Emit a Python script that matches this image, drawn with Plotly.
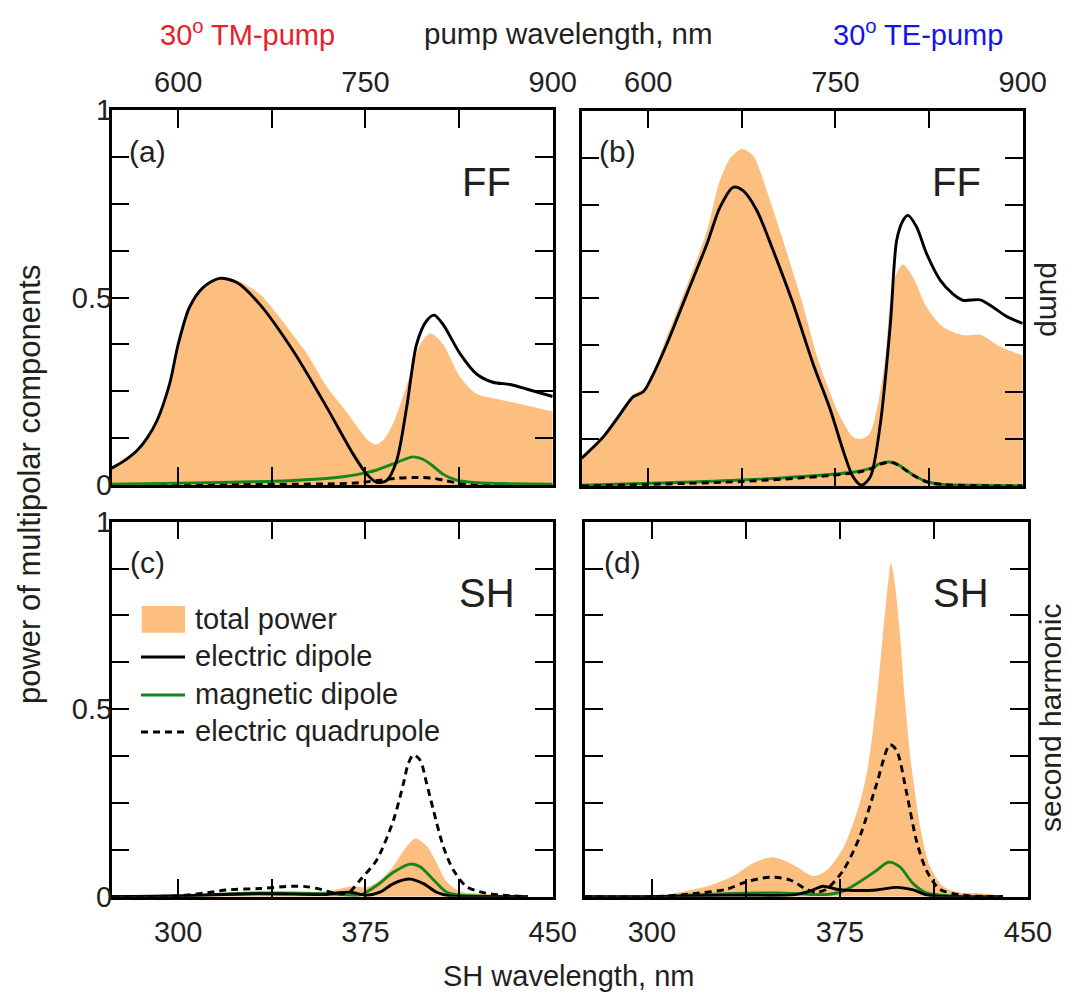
import plotly.graph_objects as go

# ---------------- data ----------------
# Panel (a): 30 deg TM pump, fundamental frequency, x = pump wavelength (nm)
A_TOTAL_X = [546.7, 556, 567, 575, 583, 593, 600, 609, 620, 633, 647, 665, 680, 692, 702, 719, 732, 745, 752, 758, 765, 772, 779, 786, 794, 802, 812, 826, 839, 858, 879, 900]
A_TOTAL_Y = [0.05, 0.068, 0.095, 0.13, 0.175, 0.27, 0.378, 0.476, 0.53, 0.555, 0.545, 0.51, 0.452, 0.40, 0.355, 0.262, 0.207, 0.148, 0.12, 0.108, 0.122, 0.163, 0.225, 0.296, 0.376, 0.404, 0.376, 0.287, 0.243, 0.227, 0.212, 0.196]
A_ED_X = [546.7, 556, 567, 575, 583, 593, 600, 609, 620, 633, 647, 665, 692, 719, 740, 751, 759, 767, 775, 783, 791, 799, 805, 812, 826, 839, 852, 866, 879, 900]
A_ED_Y = [0.045, 0.063, 0.092, 0.125, 0.172, 0.269, 0.376, 0.474, 0.527, 0.551, 0.540, 0.483, 0.358, 0.207, 0.083, 0.029, 0.007, 0.012, 0.065, 0.207, 0.376, 0.438, 0.453, 0.429, 0.349, 0.296, 0.274, 0.268, 0.256, 0.236]
A_MD_X = [546.7, 600, 650, 692, 732, 751, 759, 772, 781, 788, 795, 802, 812, 823, 840, 860, 900]
A_MD_Y = [0.002, 0.005, 0.008, 0.012, 0.022, 0.033, 0.040, 0.056, 0.068, 0.075, 0.070, 0.056, 0.029, 0.013, 0.006, 0.004, 0.002]
A_EQ_X = [546.7, 650, 720, 745, 762, 775, 788, 796, 804, 815, 826, 850, 900]
A_EQ_Y = [0.0, 0.002, 0.003, 0.006, 0.013, 0.018, 0.020, 0.020, 0.018, 0.011, 0.004, 0.001, 0.0]

# Panel (b): 30 deg TE pump, fundamental frequency
B_TOTAL_X = [546.7, 564, 577, 588, 596, 603, 615, 631, 647, 657, 666, 675, 684, 695, 708, 722, 738, 754, 764, 770, 777, 783, 790, 796, 804, 812, 823, 836, 852, 866, 882, 900]
B_TOTAL_Y = [0.082, 0.137, 0.197, 0.245, 0.258, 0.298, 0.40, 0.535, 0.68, 0.81, 0.875, 0.898, 0.880, 0.787, 0.654, 0.504, 0.317, 0.184, 0.131, 0.125, 0.138, 0.202, 0.344, 0.539, 0.59, 0.557, 0.477, 0.424, 0.402, 0.403, 0.371, 0.348]
B_ED_X = [546.7, 564, 577, 588, 596, 603, 615, 631, 647, 657.5, 668, 676, 687, 700, 716, 732, 746, 756, 764, 771, 778, 786, 794, 799, 804, 808, 815, 823, 834, 844, 852, 866, 876, 887, 900]
B_ED_Y = [0.074, 0.131, 0.189, 0.238, 0.251, 0.291, 0.379, 0.512, 0.645, 0.743, 0.796, 0.787, 0.734, 0.628, 0.486, 0.326, 0.202, 0.096, 0.025, 0.002, 0.025, 0.167, 0.433, 0.654, 0.707, 0.721, 0.690, 0.619, 0.548, 0.512, 0.495, 0.496, 0.477, 0.452, 0.433]
B_MD_X = [546.7, 609, 675, 743, 770, 780, 786, 792, 797, 802, 812, 823, 836, 860, 900]
B_MD_Y = [0.002, 0.008, 0.016, 0.030, 0.040, 0.050, 0.060, 0.064, 0.062, 0.053, 0.030, 0.012, 0.004, 0.002, 0.001]
B_EQ_X = [546.7, 609, 675, 743, 770, 780, 786, 792, 797, 802, 812, 823, 836, 860, 900]
B_EQ_Y = [0.0, 0.005, 0.012, 0.027, 0.038, 0.048, 0.058, 0.063, 0.061, 0.052, 0.029, 0.011, 0.004, 0.001, 0.0]

# Panel (c): TM pump, second harmonic, x = SH wavelength (nm)
C_TOTAL_X = [273.3, 320, 346, 360, 370, 375.5, 381, 386, 390, 395, 399.5, 403.5, 407.5, 413, 423.5, 440]
C_TOTAL_Y = [0.0, 0.004, 0.01, 0.015, 0.028, 0.025, 0.045, 0.08, 0.12, 0.155, 0.135, 0.09, 0.04, 0.014, 0.007, 0.0]
C_EQ_X = [273.3, 299, 313, 319, 333, 346, 351, 355.5, 362, 366, 369, 372.8, 379.5, 386.2, 390.2, 392.2, 394.2, 396.9, 399.5, 402.2, 406.2, 410.2, 415.5, 422.2, 430, 440]
C_EQ_Y = [0.0, 0.002, 0.012, 0.018, 0.022, 0.028, 0.027, 0.022, 0.011, 0.008, 0.015, 0.044, 0.098, 0.204, 0.302, 0.356, 0.378, 0.364, 0.302, 0.231, 0.133, 0.071, 0.027, 0.011, 0.004, 0.0]
C_MD_X = [273.3, 299, 333, 359.5, 370, 373, 379.5, 386.2, 392.8, 396.9, 402.2, 407.5, 413, 425, 440]
C_MD_Y = [0.0, 0.002, 0.010, 0.008, 0.004, 0.005, 0.03, 0.065, 0.087, 0.08, 0.045, 0.012, 0.004, 0.001, 0.0]
C_ED_X = [273.3, 299, 333, 359.5, 363.5, 368.8, 375.5, 380.8, 386.2, 392.8, 398.2, 403.5, 409, 420, 440]
C_ED_Y = [0.0, 0.002, 0.008, 0.006, 0.010, 0.012, 0.004, 0.012, 0.035, 0.047, 0.035, 0.012, 0.002, 0.0, 0.0]

# Panel (d): TE pump, second harmonic
D_TOTAL_X = [273.3, 300.6, 309.9, 323.1, 332.4, 340.4, 348.4, 356.3, 364.3, 369.6, 376.3, 382.9, 386.2, 389.6, 392.2, 394.2, 395.3, 396.9, 398.9, 400.9, 403.5, 407.5, 410.8, 416.1, 422, 429.4, 436, 440]
D_TOTAL_Y = [0.0, 0.0, 0.01, 0.03, 0.055, 0.09, 0.105, 0.085, 0.055, 0.07, 0.13, 0.25, 0.348, 0.525, 0.703, 0.836, 0.889, 0.836, 0.703, 0.525, 0.348, 0.17, 0.082, 0.028, 0.012, 0.01, 0.006, 0.0]
D_EQ_X = [273.3, 300.6, 316.5, 329.8, 337.8, 347, 355, 361.6, 365.7, 369.6, 376.3, 382.9, 389.6, 394.9, 397.6, 401.5, 405.5, 409.5, 414.8, 422.8, 436, 440]
D_EQ_Y = [0.0, 0.0, 0.008, 0.02, 0.04, 0.052, 0.045, 0.02, 0.012, 0.02, 0.07, 0.16, 0.30, 0.405, 0.39, 0.28, 0.15, 0.07, 0.02, 0.005, 0.0, 0.0]
D_MD_X = [273.3, 300, 329.8, 350, 369.6, 376.3, 382.9, 389.6, 394.3, 398.8, 404.2, 409.5, 420, 440]
D_MD_Y = [0.0, 0.0, 0.008, 0.01, 0.006, 0.015, 0.04, 0.07, 0.092, 0.08, 0.035, 0.01, 0.002, 0.0]
D_ED_X = [273.3, 300, 329.8, 356.3, 363, 368.3, 373.6, 378.9, 389.6, 397.6, 404.2, 409.5, 420, 440]
D_ED_Y = [0.0, 0.0, 0.004, 0.005, 0.015, 0.028, 0.02, 0.017, 0.018, 0.025, 0.018, 0.005, 0.0, 0.0]

PUMP_TICKS = [600, 750, 900]
PUMP_LABELS = ["600", "750", "900"]
PUMP_MINOR = [600, 675, 750, 825, 900]
SH_TICKS = [300, 375, 450]
SH_LABELS = ["300", "375", "450"]
SH_MINOR = [300, 337.5, 375, 412.5, 450]
Y_TICKS = [0, 0.5, 1.0]
Y_LABELS = ["0", "0.5", "1"]
Y_MINOR = [0, 0.125, 0.25, 0.375, 0.5, 0.625, 0.75, 0.875, 1.0]
PUMP_RANGE = [546.67, 900]
SH_RANGE = [273.33, 450]

LEGEND_NAMES = ["total power", "electric dipole", "magnetic dipole", "electric quadrupole"]

# ---------------- styling ----------------
# the page body adds an 8px margin, so the figure is drawn 8px smaller
OFF = 8
W, H = 1069 - OFF, 996 - OFF
FONT = "Liberation Sans, Arial, sans-serif"
TXT = "#231f20"
ORANGE = "#fdbf80"
GREEN = "#17851a"
LW = 2.9
DASH = "7px,5px"


def px(x):
    return (x - OFF) / W


def py(y):
    return 1 - (y - OFF) / H


fig = go.Figure()

panels = [
    ("", (A_TOTAL_X, A_TOTAL_Y), (A_ED_X, A_ED_Y), (A_MD_X, A_MD_Y), (A_EQ_X, A_EQ_Y), "eq_first"),
    ("2", (B_TOTAL_X, B_TOTAL_Y), (B_ED_X, B_ED_Y), (B_MD_X, B_MD_Y), (B_EQ_X, B_EQ_Y), "md_first"),
    ("3", (C_TOTAL_X, C_TOTAL_Y), (C_ED_X, C_ED_Y), (C_MD_X, C_MD_Y), (C_EQ_X, C_EQ_Y), "md_first"),
    ("4", (D_TOTAL_X, D_TOTAL_Y), (D_ED_X, D_ED_Y), (D_MD_X, D_MD_Y), (D_EQ_X, D_EQ_Y), "md_first"),
]

for suf, tot, ed, md, eq, order in panels:
    xa, ya = "x" + suf, "y" + suf
    fig.add_trace(go.Scatter(x=tot[0], y=tot[1], mode="lines", fill="tozeroy",
                             fillcolor=ORANGE, line=dict(width=0, color=ORANGE, shape="spline", smoothing=0.8),
                             xaxis=xa, yaxis=ya, showlegend=False, name=LEGEND_NAMES[0]))
    md_tr = go.Scatter(x=md[0], y=md[1], mode="lines", line=dict(width=LW, color=GREEN, shape="spline", smoothing=0.8),
                       xaxis=xa, yaxis=ya, showlegend=False, name=LEGEND_NAMES[2])
    eq_tr = go.Scatter(x=eq[0], y=eq[1], mode="lines", line=dict(width=LW, color="black", dash=DASH, shape="spline", smoothing=0.8),
                       xaxis=xa, yaxis=ya, showlegend=False, name=LEGEND_NAMES[3])
    if order == "eq_first":
        fig.add_trace(eq_tr)
        fig.add_trace(md_tr)
    else:
        fig.add_trace(md_tr)
        fig.add_trace(eq_tr)
    fig.add_trace(go.Scatter(x=ed[0], y=ed[1], mode="lines", line=dict(width=LW, color="black", shape="spline", smoothing=0.8),
                             xaxis=xa, yaxis=ya, showlegend=False, name=LEGEND_NAMES[1]))

# panel frames in reference pixels (left, right, top, bottom)
frames = {
    "": (111.7, 552.7, 110.0, 485.0),
    "2": (581.7, 1022.7, 110.7, 486.0),
    "3": (111.7, 552.7, 521.7, 896.7),
    "4": (585.0, 1028.0, 521.7, 896.7),
}


def axis_common():
    return dict(ticks="inside", ticklen=18, tickwidth=2, tickcolor="black",
                showline=True, linewidth=2.5, linecolor="black", mirror="ticks",
                showgrid=False, zeroline=False, automargin=False,
                tickfont=dict(family=FONT, size=29, color=TXT))


layout_axes = {}
for suf, (l, r, t, b) in frames.items():
    top_row = suf in ("", "2")
    left_col = suf in ("", "3")
    xd = axis_common()
    xd.update(domain=[px(l), px(r)], anchor="y" + suf,
              range=PUMP_RANGE if top_row else SH_RANGE,
              side="top" if top_row else "bottom",
              tickmode="array",
              tickvals=PUMP_TICKS if top_row else SH_TICKS,
              ticktext=PUMP_LABELS if top_row else SH_LABELS,
              minor=dict(tickmode="array", tickvals=PUMP_MINOR if top_row else SH_MINOR,
                         ticks="inside", ticklen=18, tickwidth=2, tickcolor="black", showgrid=False),
              ticklabelstandoff=4 if top_row else 8)
    yd = axis_common()
    yd.update(domain=[py(b), py(t)], anchor="x" + suf, range=[0, 1],
              tickmode="array", tickvals=Y_TICKS,
              ticktext=Y_LABELS,
              showticklabels=left_col,
              minor=dict(tickmode="array", tickvals=Y_MINOR,
                         ticks="inside", ticklen=18, tickwidth=2, tickcolor="black", showgrid=False),
              ticklabelstandoff=-9,
              tickfont=dict(family=FONT, size=29, color=TXT))
    layout_axes["xaxis" + suf] = xd
    layout_axes["yaxis" + suf] = yd

fig.update_layout(**layout_axes)

ann = []


def text(x, y, s, size=28, color=TXT, angle=0, xanchor="center"):
    ann.append(dict(x=px(x), y=py(y), xref="paper", yref="paper", text=s, showarrow=False,
                    font=dict(family=FONT, size=size, color=color), textangle=angle,
                    xanchor=xanchor, yanchor="middle"))


text(247, 33, "30<sup>o</sup> TM-pump", 29, "#e8202a")
text(568, 33, "pump wavelength, nm", 29.5)
text(918, 33, "30<sup>o</sup> TE-pump", 29, "#1515e6")
text(568, 976, "SH wavelength, nm", 29)
text(30, 485, "power of multipolar components", 31, angle=-90)
text(1051, 299, "pump", 30, angle=90)
text(1050, 718, "second harmonic", 30, angle=-90)

text(147, 151, "(a)", 30)
text(617, 151, "(b)", 30)
text(147, 562, "(c)", 30)
text(622, 562, "(d)", 30)
text(486, 182, "FF", 40)
text(956, 182, "FF", 40)
text(487, 593, "SH", 40)
text(961, 593, "SH", 40)

# legend (inside panel c)
leg_y = [619, 656, 694, 731]
for name, yy in zip(LEGEND_NAMES, leg_y):
    text(193, yy, name, 29, xanchor="left")

shapes = [
    dict(type="rect", xref="paper", yref="paper", x0=px(141.7), x1=px(185), y0=py(632.7), y1=py(606),
         fillcolor=ORANGE, line=dict(width=0)),
    dict(type="line", xref="paper", yref="paper", x0=px(141), x1=px(185), y0=py(657), y1=py(657),
         line=dict(color="black", width=LW)),
    dict(type="line", xref="paper", yref="paper", x0=px(141), x1=px(185), y0=py(695), y1=py(695),
         line=dict(color=GREEN, width=LW)),
    dict(type="line", xref="paper", yref="paper", x0=px(141), x1=px(185), y0=py(732), y1=py(732),
         line=dict(color="black", width=LW, dash=DASH)),
]

fig.update_layout(width=W, height=H, autosize=False,
                  margin=dict(l=0, r=0, t=0, b=0, pad=0),
                  paper_bgcolor="white", plot_bgcolor="white",
                  showlegend=False, annotations=ann, shapes=shapes,
                  font=dict(family=FONT, color=TXT))

fig.write_html("out.html")
